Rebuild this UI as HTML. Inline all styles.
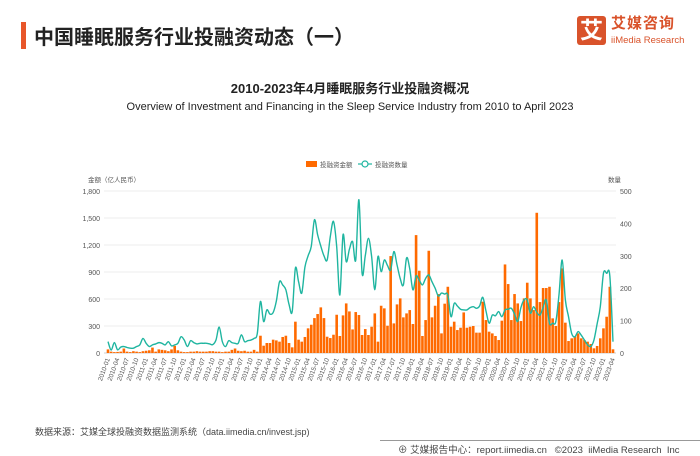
<!DOCTYPE html>
<html><head><meta charset="utf-8">
<style>
body{margin:0;width:700px;height:455px;background:#fff;font-family:"Liberation Sans","Noto Sans CJK SC",sans-serif;position:relative;overflow:hidden}
.abs{position:absolute;white-space:nowrap}
</style></head><body>
<div class="abs" style="left:21px;top:22px;width:5px;height:27px;background:#e8562a"></div>
<div class="abs" style="left:34px;top:21px;font-size:20px;font-weight:bold;color:#222">中国睡眠服务行业投融资动态（一）</div>
<div class="abs" style="left:577px;top:16px;width:29px;height:29px;background:#d9532b;border-radius:3px;color:#fff;font-size:23px;line-height:29px;text-align:center;font-weight:bold">艾</div>
<div class="abs" style="left:611px;top:15px;font-size:15px;line-height:18px;color:#d9532b;font-weight:bold;letter-spacing:1px">艾媒咨询</div>
<div class="abs" style="left:611px;top:35px;font-size:9.5px;line-height:11px;color:#d9532b">iiMedia Research</div>
<div class="abs" style="left:0;width:700px;text-align:center;top:78px;font-size:13px;font-weight:bold;color:#222">2010-2023年4月睡眠服务行业投融资概况</div>
<div class="abs" style="left:0;width:700px;text-align:center;top:101px;font-size:11px;color:#222">Overview of Investment and Financing in the Sleep Service Industry from 2010 to April 2023</div>
<svg class="abs" style="left:0;top:0" width="700" height="455" id="chart"></svg>
<div class="abs" style="left:35px;top:425px;font-size:9px;color:#444">数据来源：艾媒全球投融资数据监测系统（data.iimedia.cn/invest.jsp)</div>
<div class="abs" style="left:380px;top:440px;width:320px;height:1px;background:#999"></div>
<div class="abs" style="left:398px;top:442px;font-size:9.5px;color:#444">⊕ 艾媒报告中心：report.iimedia.cn &nbsp; ©2023 &nbsp;iiMedia Research &nbsp;Inc</div>
<script>
const amounts=[40,15,10,12,15,50,15,10,20,15,10,20,
25,30,60,15,40,35,30,20,40,80,30,15,
10,10,15,15,20,15,15,15,20,20,15,15,
10,15,15,35,50,25,20,25,15,15,35,15,
192,81,111,111,148,140,126,178,192,111,63,348,148,126,178,274,314,388,433,507,388,181,166,203,425,189,418,551,462,262,455,
422,200,266,200,292,440,126,525,496,303,1077,329,540,607,396,440,477,322,1310,914,189,366,1136,396,525,655,218,548,736,292,348,255,281,451,281,292,300,226,226,570,366,
237,218,189,144,359,984,766,366,655,551,355,607,781,607,477,1558,566,722,722,736,385,300,566,940,337,133,163,181,218,163,144,126,100,52,78,163,274,403,736,41];
const counts=[35,9,32,10,18,20,17,15,15,20,25,45,30,20,25,28,32,30,25,35,22,25,30,50,40,20,38,32,28,30,30,30,28,26,40,80,35,20,38,32,30,
30,56,35,38,40,45,60,159,97,133,120,125,160,220,210,195,150,128,262,220,185,265,300,329,411,365,330,300,287,360,406,329,179,365,282,320,344,287,473,246,
300,354,298,195,298,251,287,270,256,313,272,230,210,293,260,195,238,225,210,230,241,220,200,176,185,182,179,112,153,145,135,133,133,140,143,138,145,172,130,92,117,
115,128,112,133,135,138,120,97,140,164,164,123,143,125,117,140,164,92,92,97,180,287,164,112,60,50,66,55,40,25,20,40,90,143,246,246,238,35];
const leftTicks=["0","300","600","900","1,200","1,500","1,800"];
const rightTicks=["0","100","200","300","400","500"];
const NS="http://www.w3.org/2000/svg";
const svg=document.getElementById('chart');
const x0=108,x1=613,yB=353,yT=191;
const n=amounts.length;
const xs=i=>x0+(x1-x0)*i/(n-1);
const yA=v=>yB-(yB-yT)*v/1800;
const yC=v=>yB-(yB-yT)*v/500;
function el(t,a){const e=document.createElementNS(NS,t);for(const k in a)e.setAttribute(k,a[k]);svg.appendChild(e);return e;}
leftTicks.forEach((t,i)=>{const y=yB-(yB-yT)*i/6;
const g=el('line',{x1:104,x2:616,y1:y,y2:y,stroke:i?'#ececec':'#ccc','stroke-width':1});


const tx=el('text',{x:100,y:y+3,'text-anchor':'end','font-size':7,fill:'#555'});tx.textContent=t;

});
rightTicks.forEach((t,i)=>{const y=yC(i*100);
const tx=el('text',{x:620,y:y+3,'font-size':7,fill:'#555'});tx.textContent=t;

});
let at=el('text',{x:88,y:182,'font-size':6.5,fill:'#555'});at.textContent='金额（亿人民币）';


at=el('text',{x:608,y:182,'font-size':6.5,fill:'#555'});at.textContent='数量';


amounts.forEach((v,i)=>{const y=yA(v);
const b=el('rect',{x:xs(i)-1.3,y:y,width:2.6,height:yB-y,fill:'#ff6a00'});

});
let d='M'+xs(0)+','+yC(counts[0]);
for(let i=0;i<n-1;i++){const p0=i?i-1:0,p3=i+2<n?i+2:n-1;
const c1x=xs(i)+(xs(i+1)-xs(p0))/6,c1y=yC(counts[i])+(yC(counts[i+1])-yC(counts[p0]))/6;
const c2x=xs(i+1)-(xs(p3)-xs(i))/6,c2y=yC(counts[i+1])-(yC(counts[p3])-yC(counts[i]))/6;
d+=`C${c1x},${c1y} ${c2x},${c2y} ${xs(i+1)},${yC(counts[i+1])}`;}
const ln=el('path',{d:d,fill:'none',stroke:'#1fb5a0','stroke-width':1.4});


for(let i=0;i<n;i+=3){const m=(2010+Math.floor(i/12))+'-'+String(i%12+1).padStart(2,'0');
const x=xs(i);const t=el('text',{x:x+2,y:359,'font-size':6.5,fill:'#555','text-anchor':'end',transform:`rotate(-70 ${x+2} 359)`});t.textContent=m;

}
const lg1=el('rect',{x:306,y:161,width:11,height:6,fill:'#ff6a00'});


let lt=el('text',{x:320,y:167,'font-size':6.5,fill:'#555'});lt.textContent='投融资金额';


const lg2=el('line',{x1:358,x2:372,y1:164,y2:164,stroke:'#1fb5a0','stroke-width':1.2});


const lc=el('circle',{cx:365,cy:164,r:3,fill:'#fff',stroke:'#1fb5a0','stroke-width':1.2});


lt=el('text',{x:375,y:167,'font-size':6.5,fill:'#555'});lt.textContent='投融资数量';


</script>
</body></html>
